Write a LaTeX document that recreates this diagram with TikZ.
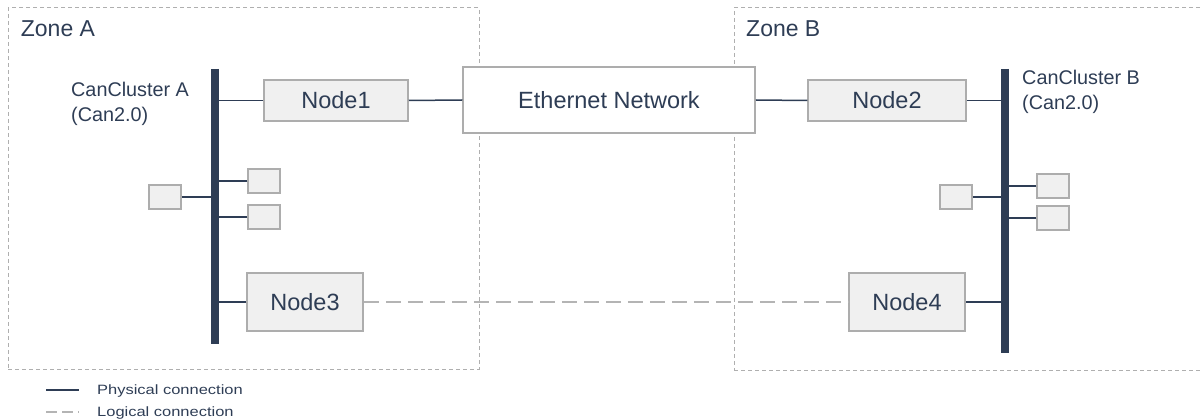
\documentclass[tikz,border=0pt]{standalone}
\usepackage{fontspec}
\setmainfont{Liberation Sans}
\definecolor{navy}{HTML}{2E3D55}
\definecolor{boxline}{HTML}{ADADAD}
\definecolor{boxfill}{HTML}{F0F0F0}
\definecolor{zoneline}{HTML}{AFAFAF}
\definecolor{logic}{HTML}{B4B4B4}
\tikzset{
  zone/.style={draw=zoneline, line width=1pt, dash pattern=on 4pt off 3pt, inner sep=0pt},
  ecu/.style={draw=boxline, fill=boxfill, line width=1.5pt, inner sep=0pt, text=navy, font=\fontsize{23.5}{27}\selectfont},
  small/.style={ecu, minimum width=32pt, minimum height=24pt},
  net/.style={draw=boxline, fill=white, line width=1.5pt, inner sep=0pt, text=navy, font=\fontsize{23.5}{27}\selectfont},
  phys/.style={draw=navy, line width=1.5pt},
  logical/.style={draw=logic, line width=1.5pt, dash pattern=on 15pt off 7pt},
  bus/.style={draw=navy, line width=8pt},
  zlabel/.style={text=navy, inner sep=0pt, anchor=base west, font=\fontsize{23}{27}\selectfont},
  clabel/.style={text=navy, inner sep=0pt, anchor=base west, font=\fontsize{19.8}{24}\selectfont},
  llabel/.style={text=navy, inner sep=0pt, anchor=base west, font=\fontsize{13.5}{16}\selectfont},
}
\begin{document}
\begin{tikzpicture}[x=1pt,y=-1pt]
\useasboundingbox (0,0) rectangle (1201,419);
% zones
\node[zone, minimum width=471pt, minimum height=361pt] (zoneA) at (243.5,188.5) {};
\node[zone, minimum width=472pt, minimum height=362pt] (zoneB) at (970,189) {};
\node[zlabel] (zA) at (20.7,37) {Zone A};
\node[zlabel] (zB) at (746,37) {Zone B};
% bus coordinates
\coordinate (busAt) at (214.5,69);
\coordinate (busAb) at (214.5,344);
\coordinate (busBt) at (1004.5,69);
\coordinate (busBb) at (1004.5,353);
% labels
\node[clabel] (clA1) at (71,97) {CanCluster A};
\node[clabel] (clA2) at (71,122) {(Can2.0)};
\node[clabel] (clB1) at (1022,85) {CanCluster B};
\node[clabel] (clB2) at (1022,110) {(Can2.0)};
% nodes
\node[net, minimum width=292pt, minimum height=66pt] (eth) at (609,100) {Ethernet Network};
\node[ecu, minimum width=144pt, minimum height=41pt] (n1) at (336,100.5) {Node1};
\node[ecu, minimum width=158pt, minimum height=41pt] (n2) at (887,100.5) {Node2};
\node[ecu, minimum width=116pt, minimum height=58pt] (n3) at (305,302) {Node3};
\node[ecu, minimum width=116pt, minimum height=58pt] (n4) at (907,302) {Node4};
\node[small] (sa1) at (264,181) {};
\node[small] (sa2) at (264,217) {};
\node[small] (sa3) at (165,197) {};
\node[small] (sb1) at (1053,186) {};
\node[small] (sb2) at (1053,218) {};
\node[small] (sb3) at (956,197) {};
% connections
\draw[phys] (n1.west) -- (n1.west -| busAt);
\draw[phys] (n1.east) -- (eth.west);
\draw[phys] (eth.east) -- (n2.west);
\draw[phys] (n2.east) -- (n2.east -| busBt);
\draw[phys] (sa1.west) -- (sa1.west -| busAt);
\draw[phys] (sa2.west) -- (sa2.west -| busAt);
\draw[phys] (sa3.east) -- (sa3.east -| busAt);
\draw[phys] (n3.west) -- (n3.west -| busAt);
\draw[phys] (sb1.west) -- (sb1.west -| busBt);
\draw[phys] (sb2.west) -- (sb2.west -| busBt);
\draw[phys] (sb3.east) -- (sb3.east -| busBt);
\draw[phys] (n4.east) -- (n4.east -| busBt);
\draw[logical] (n3.east) -- (n4.west);
% buses
\draw[bus] (busAt) -- (busAb);
\draw[bus] (busBt) -- (busBb);
% legend
\coordinate (lp1) at (46,390);
\coordinate (lp2) at (79,390);
\coordinate (ll1) at (46,412);
\coordinate (ll2) at (79,412);
\draw[phys] (lp1) -- (lp2);
\draw[logical, dash pattern=on 11pt off 5pt] (ll1) -- (ll2);
\node[llabel] (lgp) at (97,394.5) {\scalebox{1.22}[1]{Physical connection}};
\node[llabel] (lgl) at (97,416) {\scalebox{1.22}[1]{Logical connection}};
\end{tikzpicture}
\end{document}
